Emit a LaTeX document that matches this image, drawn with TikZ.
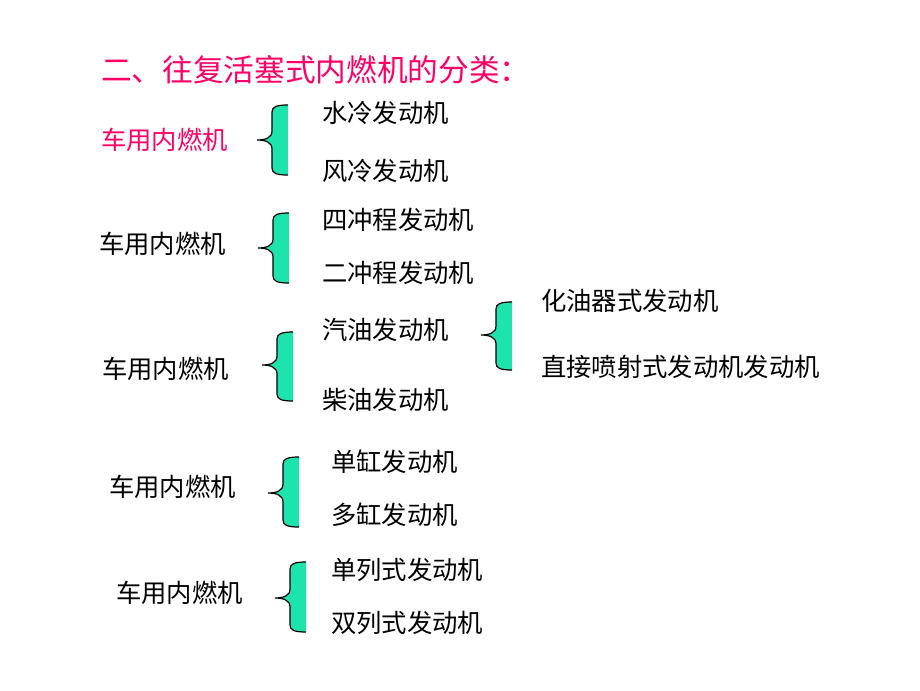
\documentclass[tikz,border=0pt]{standalone}
\usepackage{fontspec}
\newfontfamily\cjk{Noto Sans CJK SC}
\usetikzlibrary{positioning}
\definecolor{rosered}{RGB}{255,0,102}
\definecolor{mint}{RGB}{28,228,172}
\tikzset{
	item/.style={inner sep=0pt,anchor=west,font=\cjk\fontsize{19}{19}\selectfont},
	kind/.style={item},
	head/.style={item,text=rosered,font=\cjk\fontsize{23}{23}\selectfont},
	brace line/.style={draw=black,line width=0.9pt},
}
% #1 = x of the brace body, #2 = top, #3 = bottom, #4 = y of the tip
\newcommand{\cbrace}[4]{%
	\fill[mint] (#1+16,#2) .. controls (#1+4,#2) and (#1,#2+2) .. (#1,#2+7)
		-- (#1,#4-9) .. controls (#1,#4-2) and (#1-7,#4) .. (#1-15,#4)
		.. controls (#1-7,#4) and (#1,#4+2) .. (#1,#4+9)
		-- (#1,#3-7) .. controls (#1,#3-2) and (#1+4,#3) .. (#1+16,#3) -- cycle;
	\draw[brace line] (#1+16,#2) .. controls (#1+4,#2) and (#1,#2+2) .. (#1,#2+7)
		-- (#1,#4-9) .. controls (#1,#4-2) and (#1-7,#4) .. (#1-15,#4)
		.. controls (#1-7,#4) and (#1,#4+2) .. (#1,#4+9)
		-- (#1,#3-7) .. controls (#1,#3-2) and (#1+4,#3) .. (#1+16,#3);
}

\begin{document}
\begin{tikzpicture}[x=0.75pt,y=-0.75pt]
	\useasboundingbox (0,0) rectangle (920,690);
	\node[head] (t) at (101,70) {二、往复活塞式内燃机的分类：};

	\node[kind,text=rosered] (k1) at (101,140) {车用内燃机};
	\node[kind] (k2) at (99,244) {车用内燃机};
	\node[kind] (k3) at (102,369) {车用内燃机};
	\node[kind] (k4) at (109,487) {车用内燃机};
	\node[kind] (k5) at (116,593) {车用内燃机};

	\cbrace{272}{105}{175}{140}
	\cbrace{273}{213}{283}{248}
	\cbrace{277}{332}{401}{365}
	\cbrace{496}{302}{370}{335}
	\cbrace{283}{457}{527}{493}
	\cbrace{290}{562}{632}{598}

	\node[item] (a1) at (322,113) {水冷发动机};
	\node[item] (a2) at (322,171) {风冷发动机};
	\node[item] (b1) at (322,220) {四冲程发动机};
	\node[item] (b2) at (322,273) {二冲程发动机};
	\node[item] (c1) at (322,330) {汽油发动机};
	\node[item] (c2) at (322,400) {柴油发动机};
	\node[item] (d1) at (541,301) {化油器式发动机};
	\node[item] (d2) at (541,367) {直接喷射式发动机发动机};
	\node[item] (e1) at (331,462) {单缸发动机};
	\node[item] (e2) at (331,515) {多缸发动机};
	\node[item] (f1) at (331,570) {单列式发动机};
	\node[item] (f2) at (331,623) {双列式发动机};
\end{tikzpicture}
\end{document}
